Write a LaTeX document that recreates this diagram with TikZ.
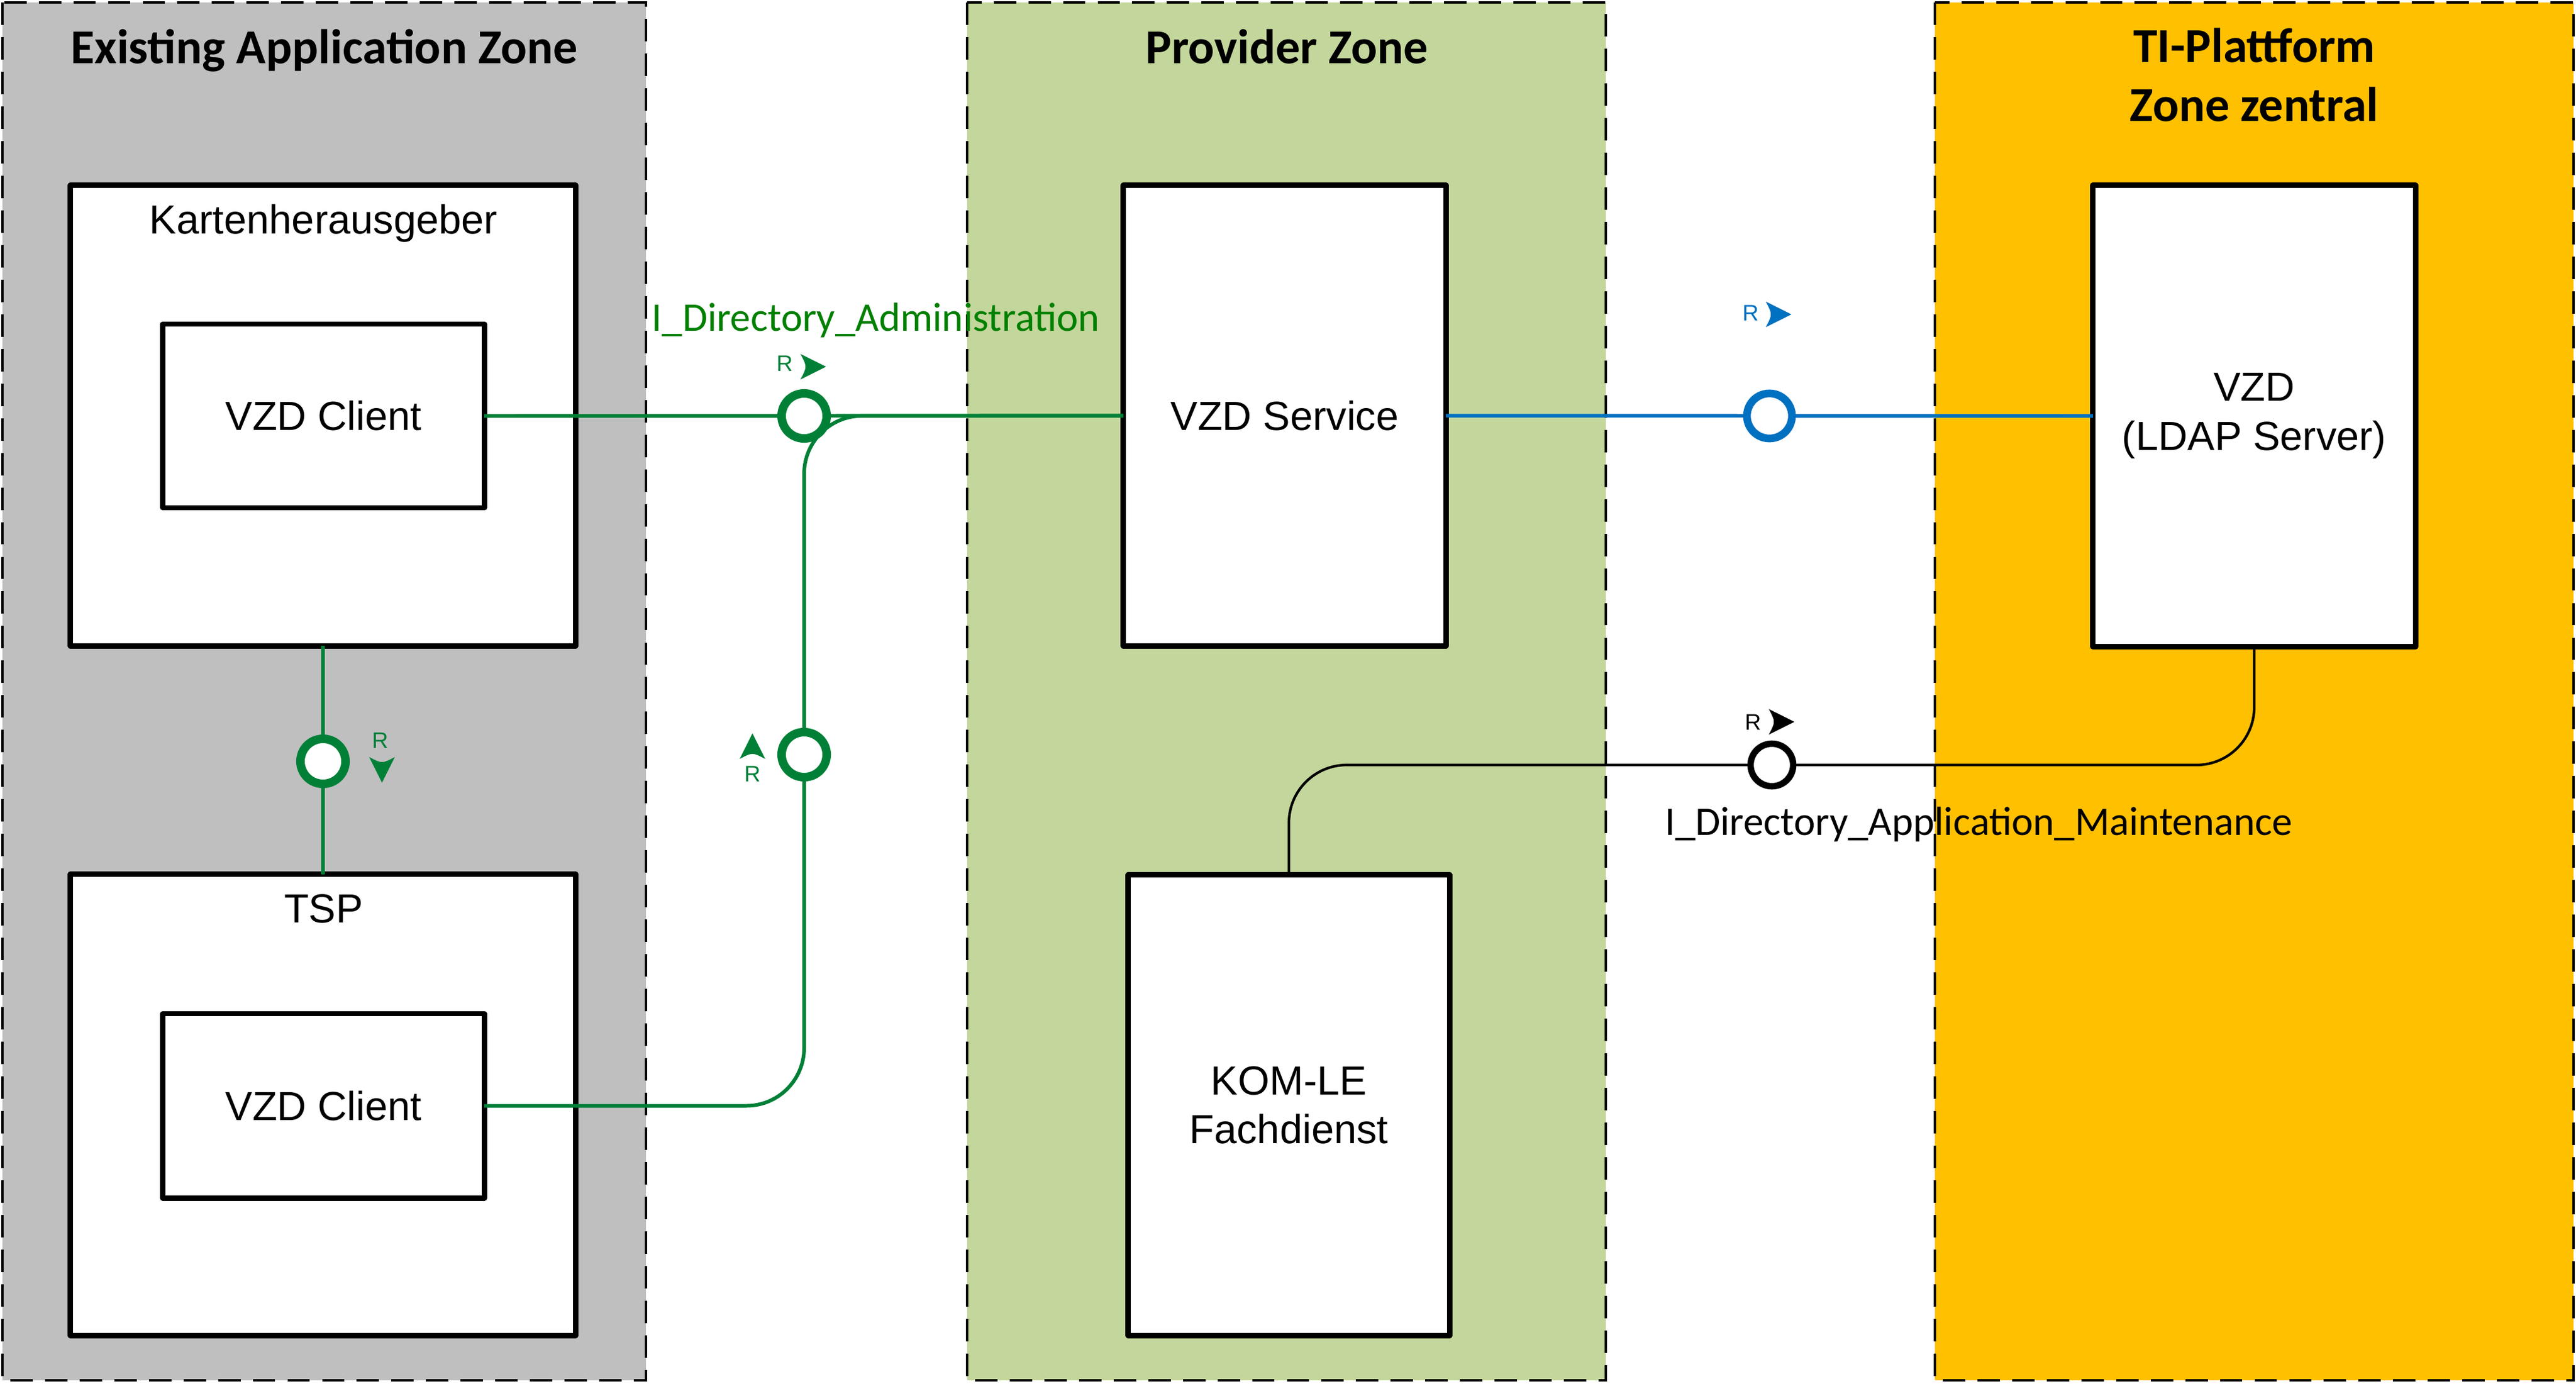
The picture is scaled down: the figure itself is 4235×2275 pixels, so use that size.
\documentclass[tikz,border=0pt]{standalone}
\usepackage{fontspec}
\setmainfont{Liberation Sans}
\newfontfamily\calib{Carlito}
\definecolor{zgray}{HTML}{BFBFBF}
\definecolor{zgreen}{HTML}{C3D69B}
\definecolor{zorange}{HTML}{FFC000}
\definecolor{lgreen}{RGB}{0,128,55}
\definecolor{tgreen}{RGB}{0,128,0}
\definecolor{lblue}{HTML}{0070C0}
\pgfdeclarelayer{zones}
\pgfdeclarelayer{top}
\pgfsetlayers{zones,main,top}
\begin{document}
\begin{tikzpicture}[x=0.01cm,y=-0.01cm,
  zone/.style={draw=black, line width=1.34pt, dash pattern=on 10.5pt off 5.7pt},
  ztitle/.style={anchor=base, inner sep=0pt, font=\calib\bfseries\fontsize{22.8pt}{27.5pt}\selectfont},
  box/.style={draw, fill=white, line width=2.5pt, line join=round, outer sep=0pt, inner sep=0pt,
    align=center, font=\fontsize{19pt}{23pt}\selectfont},
  btext/.style={anchor=base, inner sep=0pt, font=\fontsize{19pt}{23pt}\selectfont},
  iface/.style={circle, draw, fill=white, minimum size=0.74cm, inner sep=0pt, outer sep=0pt},
  gline/.style={draw=lgreen, line width=1.7pt},
  bline/.style={draw=lblue, line width=1.7pt},
  kline/.style={draw=black, line width=1.2pt},
  rlab/.style={inner sep=0pt, font=\fontsize{10.5pt}{12pt}\selectfont},
  ilab/.style={anchor=base, inner sep=0pt, font=\calib\fontsize{19pt}{22pt}\selectfont},
  pics/rtri/.style={code={\fill (-20,-21) -- (22,0) -- (-20,21) .. controls (-9,0) .. (-20,-21) -- cycle;}}
]
\useasboundingbox (0,0) rectangle (4235,2275);

% zones
\begin{pgfonlayer}{zones}
\fill[white] (0,0) rectangle (4235,2275);
\draw[zone, fill=zgray] (4,4) rectangle (1062,2270);
\draw[zone, fill=zgreen] (1590,4) rectangle (2640,2270);
\draw[zone, fill=zorange] (3181,4) rectangle (4231,2270);
\end{pgfonlayer}

\node[ztitle] (t1) at (533,104) {Existing Application Zone};
\node[ztitle] (t2) at (2116,104) {Provider Zone};
\node[ztitle] (t3) at (3706,102) {TI-Plattform};
\node[ztitle] (t4) at (3706,199) {Zone zentral};

% boxes
\node[box, minimum width=8.30cm, minimum height=7.57cm] (kart) at (531,683.5) {};
\node[btext] (kartlab) at (532,384) {Kartenherausgeber};
\node[box, minimum width=5.28cm, minimum height=3.02cm] (cl1) at (532,684) {VZD Client};
\node[box, minimum width=8.30cm, minimum height=7.58cm] (tsp) at (531,1817) {};
\node[btext] (tsplab) at (532,1517) {TSP};
\node[box, minimum width=5.28cm, minimum height=3.03cm] (cl2) at (532,1818.5) {VZD Client};
\node[box, minimum width=5.30cm, minimum height=7.57cm] (svc) at (2112,683.5) {VZD Service};
\node[box, minimum width=5.28cm, minimum height=7.57cm] (kom) at (2119,1817.5) {KOM-LE\\Fachdienst};
\node[box, minimum width=5.30cm, minimum height=7.58cm] (ldap) at (3706,684) {VZD\\(LDAP Server)};

% interface circles (on top)
\begin{pgfonlayer}{top}
\node[iface, draw=lgreen, line width=4pt] (c1) at (1322,684) {};
\node[iface, draw=lgreen, line width=4pt] (c2) at (1322,1241) {};
\node[iface, draw=lgreen, line width=4pt] (c3) at (531,1252) {};
\node[iface, draw=lblue, line width=3.6pt] (c4) at (2909,684) {};
\node[iface, draw=black, line width=3pt, minimum size=0.70cm] (c5) at (2913,1258) {};
\end{pgfonlayer}

% connectors
\draw[gline] (cl1.east) -- (svc.west);
\draw[gline, rounded corners=0.95cm] (cl2.east) -| (c1.center) -- (svc.west);
\draw[gline] (kart.south) -- (tsp.north);
\draw[bline] (svc.east) -- (ldap.west);
\draw[kline, rounded corners=0.95cm] (ldap.south) |- (c5.center) -| (kom.north);

% interface labels
\node[ilab, text=tgreen] (ila) at (1440,544) {I\_Directory\_Administration};
\node[ilab, text=black] (ilm) at (3253,1373) {I\_Directory\_Application\_Maintenance};

% R markers
\node[rlab, text=lgreen] (r1) at (1290,598) {R};
\pic[lgreen] at (1336,603) {rtri};
\node[rlab, text=lblue] (r2) at (2878,515) {R};
\pic[lblue] at (2923,517) {rtri};
\node[rlab, text=black] (r3) at (2882,1188) {R};
\pic[black] at (2928,1187) {rtri};
\node[rlab, text=lgreen] (r4) at (625,1218) {R};
\pic[lgreen, rotate=-90] at (628,1265) {rtri};
\node[rlab, text=lgreen] (r5) at (1237,1273) {R};
\pic[lgreen, rotate=90] at (1237,1228) {rtri};
\end{tikzpicture}
\end{document}
